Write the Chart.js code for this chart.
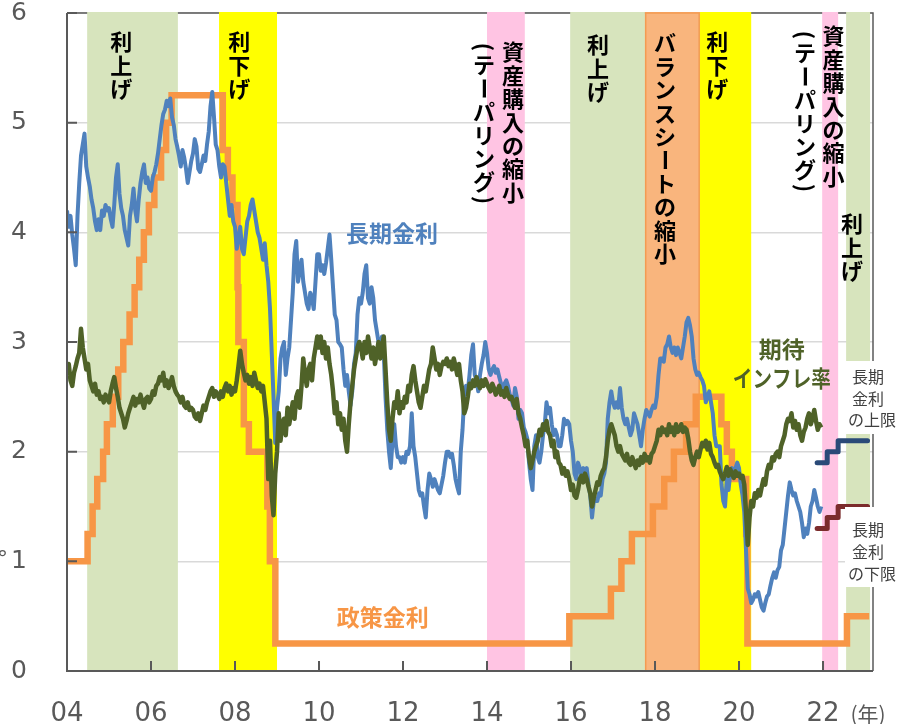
<!DOCTYPE html>
<html>
<head>
<meta charset="utf-8">
<script src="https://cdn.jsdelivr.net/npm/chart.js@4.4.1/dist/chart.umd.min.js"></script>
<style>
  html, body { margin: 0; padding: 0; background: #fff; }
  #wrap { width: 897px; height: 724px; position: relative; }
</style>
</head>
<body>
<div id="wrap"><canvas id="chart"></canvas></div>
<script>
// --------------------
// Data
// --------------------
// semi-monthly readings, Jan 2004 .. Dec 2021 (24 per year)
const longRate = [
  4.20, 4.05, 4.15, 3.98, 3.85, 3.70, 4.15, 4.45, 4.70, 4.80, 4.90, 4.60, 4.50, 4.42, 4.30, 4.22, 4.10, 4.02, 4.12, 4.02, 4.20, 4.15, 4.25, 4.20,
  4.22, 4.12, 4.05, 4.25, 4.50, 4.62, 4.35, 4.22, 4.15, 4.02, 3.95, 3.88, 4.15, 4.25, 4.40, 4.20, 4.10, 4.30, 4.45, 4.55, 4.62, 4.45, 4.50, 4.40,
  4.38, 4.50, 4.55, 4.62, 4.72, 4.85, 4.98, 5.08, 5.12, 5.20, 5.15, 5.22, 5.05, 4.98, 4.85, 4.78, 4.70, 4.60, 4.75, 4.68, 4.58, 4.45, 4.55, 4.65,
  4.72, 4.85, 4.78, 4.58, 4.55, 4.62, 4.70, 4.65, 4.80, 4.92, 5.15, 5.28, 5.05, 4.80, 4.75, 4.60, 4.50, 4.62, 4.60, 4.45, 4.30, 4.15, 4.25, 4.10,
  4.05, 3.85, 3.95, 4.05, 3.85, 3.80, 3.95, 4.10, 4.15, 4.25, 4.30, 4.20, 4.10, 4.00, 3.95, 3.85, 3.75, 3.90, 3.70, 3.55, 3.30, 2.90, 2.50, 2.08,
  2.40, 2.55, 2.85, 2.95, 3.00, 2.70, 2.85, 2.95, 3.20, 3.45, 3.80, 3.92, 3.55, 3.65, 3.75, 3.55, 3.45, 3.35, 3.30, 3.45, 3.40, 3.30, 3.55, 3.80,
  3.80, 3.65, 3.70, 3.62, 3.72, 3.85, 3.98, 3.75, 3.50, 3.25, 3.20, 3.00, 2.98, 2.95, 2.75, 2.60, 2.70, 2.55, 2.42, 2.55, 2.80, 2.90, 3.25, 3.40,
  3.35, 3.45, 3.62, 3.70, 3.40, 3.35, 3.50, 3.40, 3.20, 3.10, 3.00, 2.95, 3.05, 2.90, 2.50, 2.20, 2.00, 1.85, 2.10, 2.25, 2.05, 1.95, 1.95, 1.90,
  1.95, 1.90, 2.00, 1.98, 2.05, 2.35, 2.05, 1.95, 1.80, 1.65, 1.60, 1.62, 1.50, 1.40, 1.65, 1.80, 1.75, 1.68, 1.75, 1.70, 1.65, 1.62, 1.70, 1.78,
  1.90, 2.00, 2.00, 1.95, 1.98, 1.88, 1.75, 1.68, 1.62, 2.00, 2.20, 2.50, 2.60, 2.55, 2.70, 2.88, 2.98, 2.70, 2.65, 2.55, 2.70, 2.80, 2.88, 3.00,
  2.90, 2.75, 2.70, 2.75, 2.78, 2.72, 2.75, 2.68, 2.62, 2.55, 2.62, 2.65, 2.60, 2.52, 2.48, 2.42, 2.58, 2.50, 2.30, 2.38, 2.35, 2.22, 2.18, 2.12,
  1.90, 1.75, 1.65, 2.05, 2.15, 1.95, 1.90, 2.00, 2.15, 2.25, 2.45, 2.35, 2.40, 2.25, 2.15, 2.20, 2.15, 2.05, 2.05, 2.15, 2.30, 2.25, 2.28, 2.25,
  2.10, 2.00, 1.80, 1.75, 1.90, 1.85, 1.78, 1.85, 1.75, 1.85, 1.70, 1.60, 1.40, 1.55, 1.55, 1.55, 1.62, 1.60, 1.75, 1.80, 1.90, 2.30, 2.45, 2.55,
  2.45, 2.40, 2.45, 2.40, 2.58, 2.40, 2.30, 2.25, 2.30, 2.22, 2.15, 2.20, 2.35, 2.30, 2.25, 2.15, 2.05, 2.20, 2.30, 2.38, 2.35, 2.32, 2.38, 2.42,
  2.40, 2.50, 2.70, 2.85, 2.85, 2.82, 2.95, 2.98, 3.05, 2.95, 2.90, 2.95, 2.88, 2.95, 2.90, 2.85, 2.95, 3.05, 3.18, 3.22, 3.15, 3.05, 2.85, 2.75,
  2.70, 2.72, 2.68, 2.65, 2.60, 2.45, 2.50, 2.55, 2.45, 2.35, 2.15, 2.05, 2.05, 2.05, 1.70, 1.55, 1.50, 1.75, 1.65, 1.80, 1.85, 1.80, 1.85, 1.90,
  1.85, 1.70, 1.60, 1.45, 1.10, 0.75, 0.70, 0.62, 0.65, 0.70, 0.68, 0.72, 0.65, 0.58, 0.55, 0.62, 0.68, 0.70, 0.78, 0.85, 0.90, 0.85, 0.92, 0.95,
  1.10, 1.15, 1.30, 1.45, 1.60, 1.72, 1.65, 1.60, 1.62, 1.55, 1.50, 1.45, 1.35, 1.22, 1.30, 1.25, 1.35, 1.50, 1.55, 1.65, 1.58, 1.50, 1.45, 1.50
];

const expInflation = [
  2.70, 2.80, 2.65, 2.60, 2.72, 2.78, 2.85, 2.90, 3.12, 2.95, 2.85, 2.75, 2.80, 2.65, 2.60, 2.55, 2.62, 2.52, 2.55, 2.48, 2.50, 2.45, 2.52, 2.48,
  2.45, 2.55, 2.62, 2.68, 2.58, 2.50, 2.40, 2.35, 2.30, 2.22, 2.28, 2.35, 2.40, 2.45, 2.50, 2.42, 2.48, 2.45, 2.52, 2.45, 2.40, 2.48, 2.50, 2.45,
  2.48, 2.55, 2.52, 2.60, 2.62, 2.68, 2.65, 2.72, 2.60, 2.65, 2.58, 2.62, 2.68, 2.60, 2.55, 2.52, 2.50, 2.45, 2.50, 2.42, 2.40, 2.45, 2.38, 2.40,
  2.38, 2.32, 2.30, 2.35, 2.28, 2.35, 2.42, 2.38, 2.45, 2.50, 2.55, 2.58, 2.50, 2.55, 2.52, 2.48, 2.55, 2.50, 2.58, 2.62, 2.55, 2.60, 2.52, 2.58,
  2.55, 2.65, 2.78, 2.92, 2.80, 2.72, 2.65, 2.70, 2.62, 2.68, 2.60, 2.72, 2.65, 2.58, 2.62, 2.55, 2.60, 2.45, 2.30, 1.75, 2.10, 1.60, 1.42, 1.80,
  2.00, 2.35, 2.10, 2.25, 2.30, 2.15, 2.40, 2.25, 2.35, 2.45, 2.30, 2.50, 2.55, 2.40, 2.60, 2.85, 2.70, 2.60, 2.75, 2.80, 2.65, 2.85, 2.95, 3.05,
  2.95, 3.05, 2.90, 3.00, 2.85, 2.95, 2.80, 2.70, 2.55, 2.35, 2.45, 2.25, 2.35, 2.20, 2.30, 2.10, 2.00, 2.25, 2.45, 2.60, 2.75, 2.85, 2.95, 3.00,
  2.95, 2.85, 3.00, 2.90, 3.05, 2.95, 2.85, 2.95, 2.80, 2.90, 3.00, 2.85, 2.95, 3.05, 2.75, 2.45, 2.20, 2.10, 2.30, 2.45, 2.40, 2.55, 2.35, 2.45,
  2.40, 2.50, 2.45, 2.60, 2.55, 2.70, 2.78, 2.65, 2.55, 2.45, 2.40, 2.50, 2.60, 2.55, 2.65, 2.75, 2.80, 2.95, 2.85, 2.75, 2.80, 2.70, 2.78, 2.82,
  2.80, 2.85, 2.78, 2.82, 2.75, 2.85, 2.78, 2.70, 2.80, 2.65, 2.55, 2.35, 2.40, 2.50, 2.62, 2.58, 2.65, 2.60, 2.68, 2.62, 2.58, 2.65, 2.60, 2.66,
  2.62, 2.58, 2.55, 2.62, 2.58, 2.52, 2.56, 2.60, 2.52, 2.55, 2.50, 2.58, 2.52, 2.48, 2.50, 2.45, 2.40, 2.48, 2.35, 2.30, 2.22, 2.15, 2.05, 2.10,
  1.95, 1.85, 1.92, 2.00, 2.05, 2.10, 2.20, 2.15, 2.25, 2.20, 2.28, 2.18, 2.15, 2.05, 2.10, 1.95, 2.00, 1.90, 1.88, 1.80, 1.85, 1.78, 1.82, 1.75,
  1.65, 1.70, 1.60, 1.58, 1.65, 1.75, 1.78, 1.72, 1.80, 1.75, 1.68, 1.62, 1.50, 1.58, 1.65, 1.72, 1.70, 1.78, 1.82, 1.85, 1.95, 2.10, 2.20, 2.25,
  2.20, 2.15, 2.05, 2.00, 2.05, 1.98, 1.95, 1.92, 1.98, 1.90, 1.88, 1.95, 1.90, 1.85, 1.92, 1.88, 1.95, 1.90, 1.98, 1.92, 1.95, 1.90, 1.98, 2.00,
  2.05, 2.10, 2.20, 2.15, 2.22, 2.18, 2.20, 2.15, 2.25, 2.18, 2.22, 2.15, 2.25, 2.18, 2.20, 2.25, 2.18, 2.22, 2.20, 2.12, 2.00, 1.92, 1.88, 1.95,
  2.00, 1.95, 2.02, 2.08, 2.05, 2.10, 2.02, 2.08, 1.98, 1.95, 1.90, 1.86, 1.88, 1.82, 1.78, 1.75, 1.80, 1.86, 1.78, 1.84, 1.80, 1.76, 1.82, 1.78,
  1.80, 1.76, 1.78, 1.70, 1.45, 1.15, 1.40, 1.55, 1.50, 1.62, 1.58, 1.65, 1.60, 1.68, 1.75, 1.70, 1.82, 1.88, 1.85, 1.95, 1.92, 1.98, 2.00, 1.95,
  2.05, 2.10, 2.15, 2.25, 2.30, 2.28, 2.35, 2.22, 2.28, 2.20, 2.25, 2.15, 2.10, 2.18, 2.22, 2.30, 2.35, 2.25, 2.30, 2.38, 2.28, 2.20, 2.25, 2.22
];

// policy rate: value in force from each date on
const policyDates = [2004.0, 2004.49, 2004.61, 2004.72, 2004.86, 2004.95, 2005.09, 2005.22, 2005.34, 2005.49, 2005.61, 2005.72,
  2005.83, 2005.95, 2006.08, 2006.24, 2006.36, 2006.49, 2007.71, 2007.83, 2007.94, 2008.06, 2008.08, 2008.21,
  2008.33, 2008.77, 2008.83, 2008.96, 2015.96, 2016.95, 2017.2, 2017.45, 2017.95, 2018.22, 2018.45, 2018.74, 2018.97,
  2019.58, 2019.71, 2019.83, 2020.17, 2020.2, 2022.57, 2023.1];
const policyRate = [1.0, 1.25, 1.5, 1.75, 2.0, 2.25, 2.5, 2.75, 3.0, 3.25, 3.5, 3.75,
  4.0, 4.25, 4.5, 4.75, 5.0, 5.25, 4.75, 4.5, 4.25, 3.5, 3.0, 2.25,
  2.0, 1.5, 1.0, 0.25, 0.5, 0.75, 1.0, 1.25, 1.5, 1.75, 2.0, 2.25, 2.5,
  2.25, 2.0, 1.75, 1.25, 0.25, 0.5, 0.5];

// long rate ceiling / floor
const capDates = [2021.86, 2022.1, 2022.36, 2023.06];
const upperCap = [1.9, 2.0, 2.1, 2.1];
const lowerCap = [1.3, 1.4, 1.5, 1.5];

// shaded periods
const bandStart = [2004.48, 2007.62, 2014.0, 2015.98, 2017.76, 2019.07, 2021.98, 2022.55];
const bandEnd   = [2006.64, 2009.0, 2014.9, 2017.76, 2019.07, 2020.29, 2022.36, 2023.12];
const bandKind  = ['hike', 'cut', 'taper', 'hike', 'qt', 'cut', 'taper', 'hike'];

const yearTicks = ['04', '06', '08', '10', '12', '14', '16', '18', '20', '22'];

// --------------------
// Look
// --------------------
const JP = '"Noto Sans CJK JP", "Noto Sans", sans-serif';
const GREY = '#595959';
const BAND_FILL = { hike: '#D7E4BD', cut: '#FFFF00', taper: '#FFC4E3', qt: '#F9B57D' };

// vertical band captions (x in years, y in px)
const bandNotes = [
  { text: '利上げ', x: 2005.29, y: 42 },
  { text: '利下げ', x: 2008.1, y: 42 },
  { text: '資産購入の縮小', x: 2014.62, y: 52 },
  { text: '(テーパリング)', x: 2013.93, y: 47 },
  { text: '利上げ', x: 2016.64, y: 45 },
  { text: 'バランスシートの縮小', x: 2018.24, y: 43 },
  { text: '利下げ', x: 2019.48, y: 42 },
  { text: '資産購入の縮小', x: 2022.25, y: 36 },
  { text: '(テーパリング)', x: 2021.57, y: 35 },
  { text: '利上げ', x: 2022.69, y: 224 },
];

// series captions (data coords)
const seriesNotes = [
  { text: '長期金利', x: 2011.74, y: 3.99, color: '#4F81BD' },
  { text: '期待', x: 2021.02, y: 2.93, color: '#4F6228' },
  { text: 'インフレ率', x: 2021.02, y: 2.67, color: '#4F6228' },
  { text: '政策金利', x: 2011.52, y: 0.49, color: '#F79646' },
];

const ROTATED = '()（）ー';
function drawVertical(ctx, text, cx, y0, step, parenStep) {
  const chars = [...text];
  let y = y0;
  chars.forEach((ch, i) => {
    if (i > 0) {
      const paren = '()（）'.includes(ch) || '()（）'.includes(chars[i - 1]);
      y += paren ? parenStep : step;
    }
    if (ROTATED.includes(ch)) {
      ctx.save();
      ctx.translate(cx, y);
      ctx.rotate(Math.PI / 2);
      ctx.fillText(ch, 0, 0);
      ctx.restore();
    } else {
      ctx.fillText(ch, cx, y);
    }
  });
}

const backdrop = {
  id: 'backdrop',
  beforeDatasetsDraw(chart) {
    const { ctx, chartArea: a, scales: { x } } = chart;
    ctx.save();
    // top and right frame (under the bands)
    ctx.strokeStyle = GREY;
    ctx.lineWidth = 1.5;
    ctx.beginPath();
    ctx.moveTo(a.left, a.top);
    ctx.lineTo(a.right, a.top);
    ctx.lineTo(a.right, a.bottom);
    ctx.stroke();

    bandStart.forEach((s, i) => {
      const x0 = x.getPixelForValue(s);
      const x1 = x.getPixelForValue(bandEnd[i]);
      ctx.fillStyle = BAND_FILL[bandKind[i]];
      ctx.fillRect(x0, a.top - 1, x1 - x0, a.bottom - a.top + 1);
      if (bandKind[i] === 'qt') {
        ctx.strokeStyle = '#F39B52';
        ctx.lineWidth = 1.5;
        ctx.strokeRect(x0 + 0.75, a.top, x1 - x0 - 1.5, a.bottom - a.top);
      }
    });

    ctx.fillStyle = '#000';
    ctx.font = 'bold 22px ' + JP;
    ctx.textAlign = 'center';
    ctx.textBaseline = 'middle';
    bandNotes.forEach(n => {
      drawVertical(ctx, n.text, x.getPixelForValue(n.x), n.y, 23.4, 18);
    });
    ctx.restore();
  },
  afterDatasetsDraw(chart) {
    const { ctx, chartArea: a, scales: { x, y } } = chart;
    ctx.save();
    // left and bottom axis
    ctx.strokeStyle = GREY;
    ctx.lineWidth = 2;
    ctx.beginPath();
    ctx.moveTo(a.left, a.top);
    ctx.lineTo(a.left, a.bottom);
    ctx.lineTo(a.right, a.bottom);
    ctx.stroke();
    // inner tick marks
    ctx.beginPath();
    x.ticks.forEach(t => {
      const px = x.getPixelForValue(t.value);
      ctx.moveTo(px, a.bottom);
      ctx.lineTo(px, a.bottom - 10);
    });
    y.ticks.forEach(t => {
      const py = y.getPixelForValue(t.value);
      ctx.moveTo(a.left, py);
      ctx.lineTo(a.left + 10, py);
    });
    ctx.stroke();

    // series captions
    ctx.font = 'bold 23px ' + JP;
    ctx.textAlign = 'center';
    ctx.textBaseline = 'middle';
    seriesNotes.forEach(n => {
      ctx.fillStyle = n.color;
      ctx.fillText(n.text, x.getPixelForValue(n.x), y.getPixelForValue(n.y), n.text.length > 4 ? 98 : undefined);
    });
    ctx.restore();
  },
  afterDraw(chart) {
    const { ctx } = chart;
    ctx.save();
    // ceiling / floor captions on white boxes
    ctx.fillStyle = '#fff';
    ctx.fillRect(845, 361, 52, 73);
    ctx.fillRect(845, 507, 52, 80);
    ctx.fillStyle = '#404040';
    ctx.font = '16px ' + JP;
    ctx.textAlign = 'center';
    ctx.textBaseline = 'middle';
    [['長期', 377], ['金利', 399], ['の上限', 420], ['長期', 530], ['金利', 552], ['の下限', 574]]
      .forEach(([t, py]) => ctx.fillText(t, t.length > 2 ? 872 : 868, py));

    ctx.fillStyle = GREY;
    ctx.font = '21px ' + JP;
    ctx.fillText('(年)', 868, 714);
    ctx.font = '22px "DejaVu Sans"';
    ctx.textAlign = 'left';
    ctx.fillText('°', -3, 560);
    ctx.restore();
  }
};

const series = (arr) => arr.map((v, i) => ({ x: 2004 + i / 24, y: v }));
const steps = (xs, ys) => xs.map((t, i) => ({ x: t, y: ys[i] }));

new Chart(document.getElementById('chart'), {
  type: 'line',
  data: {
    datasets: [
      {
        label: '期待インフレ率',
        data: series(expInflation),
        borderColor: '#4F6228',
        borderWidth: 4.5,
        borderJoinStyle: 'round',
        pointRadius: 0,
        order: 1,
      },
      {
        label: '長期金利',
        data: series(longRate),
        borderColor: '#4F81BD',
        borderWidth: 4,
        borderJoinStyle: 'round',
        pointRadius: 0,
        order: 2,
      },
      {
        label: '政策金利',
        data: steps(policyDates, policyRate),
        borderColor: '#F79646',
        borderWidth: 6.5,
        stepped: 'before',
        pointRadius: 0,
        order: 3,
      },
      {
        label: '長期金利の上限',
        data: steps(capDates, upperCap),
        borderColor: '#2A4A78',
        borderWidth: 5,
        stepped: 'before',
        borderCapStyle: 'round',
        borderJoinStyle: 'round',
        pointRadius: 0,
        order: 0,
      },
      {
        label: '長期金利の下限',
        data: steps(capDates, lowerCap),
        borderColor: '#7B2C2C',
        borderWidth: 5,
        stepped: 'before',
        borderCapStyle: 'round',
        borderJoinStyle: 'round',
        pointRadius: 0,
        order: 0,
      },
    ]
  },
  options: {
    responsive: true,
    maintainAspectRatio: false,
    animation: false,
    layout: { padding: { top: 13, right: 24, left: 0, bottom: 0 } },
    plugins: { legend: { display: false }, tooltip: { enabled: false } },
    scales: {
      x: {
        type: 'linear',
        min: 2004,
        max: 2023.19,
        grid: { display: false, drawTicks: false },
        border: { display: false },
        ticks: {
          stepSize: 2,
          includeBounds: false,
          autoSkip: false,
          maxRotation: 0,
          padding: 30,
          color: GREY,
          font: { family: '"DejaVu Sans"', size: 26, lineHeight: 1 },
          callback: (v) => yearTicks[(v - 2004) / 2] ?? '',
        },
        afterFit: (s) => { s.height = 53; s.paddingLeft = 0; s.paddingRight = 0; },
      },
      y: {
        min: 0,
        max: 6,
        grid: { color: '#D9D9D9', lineWidth: 1.5, drawTicks: false },
        border: { display: false },
        ticks: {
          stepSize: 1,
          includeBounds: false,
          padding: 40,
          color: GREY,
          font: { family: '"DejaVu Sans"', size: 25, lineHeight: 1 },
        },
        afterFit: (s) => { s.width = 67; s.paddingTop = 0; s.paddingBottom = 0; },
      }
    }
  },
  plugins: [backdrop]
});
</script>
</body>
</html>
